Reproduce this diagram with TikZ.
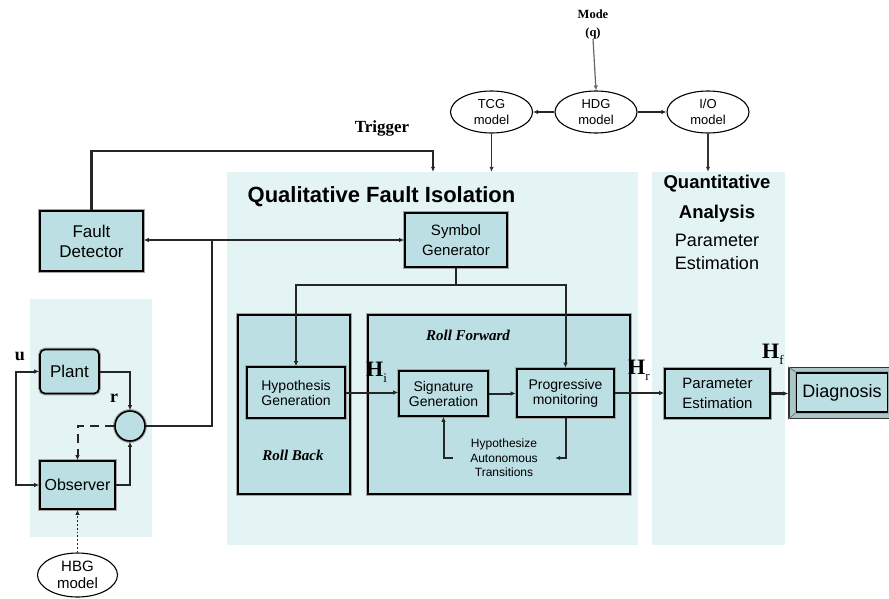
\documentclass[tikz,border=0pt]{standalone}
\usepackage{fontspec}
\setmainfont{Liberation Sans}
\newfontfamily\labelserif{Liberation Serif}
\usetikzlibrary{shapes.geometric,arrows.meta}

\definecolor{panelfill}{RGB}{228,243,244}
\definecolor{boxfill}{RGB}{187,223,227}

\tikzset{
  panel/.style={rectangle, fill=panelfill, draw=none, inner sep=0pt},
  blk/.style={rectangle, draw=black, line width=1.6pt, fill=boxfill,
    preaction={draw=black!35, line width=3.8pt}, align=center, inner sep=0pt,
    font=\fontsize{14}{15}\selectfont},
  group/.style={blk, line width=1.8pt},
  model/.style={ellipse, draw=black, line width=1.1pt, fill=white, inner sep=0pt,
    align=center, minimum width=82pt, minimum height=42pt,
    font=\fontsize{13}{16}\selectfont},
  conn/.style={line width=2pt, draw=black!85},
  tip/.style={-{Latex[length=5pt,width=4.5pt]}},
  twotip/.style={{Latex[length=5pt,width=4.5pt]}-{Latex[length=5pt,width=4.5pt]}},
  sym/.style={font=\labelserif\bfseries\fontsize{17}{17}\selectfont, inner sep=0pt},
  hsym/.style={font=\labelserif\bfseries\fontsize{22}{22}\selectfont, inner sep=0pt, anchor=west},
  rolllab/.style={font=\labelserif\bfseries\itshape\fontsize{15}{15}\selectfont, inner sep=0pt},
}
\newcommand{\hsub}[1]{\raisebox{-6pt}{\fontsize{13}{13}\selectfont\mdseries #1}}

\begin{document}
\begin{tikzpicture}[x=1pt,y=-1pt]
\useasboundingbox (0,0) rectangle (889,598);
\fill[white] (0,0) rectangle (889,598);

% shaded areas
\node[panel, minimum width=122pt, minimum height=238pt] (lp) at (91,418) {};
\node[panel, minimum width=411pt, minimum height=373pt] (qfi) at (432.5,358.5) {};
\node[panel, minimum width=133pt, minimum height=373pt] (qa) at (718.5,358.5) {};

% area titles
\node[font=\bfseries\fontsize{22}{22}\selectfont, inner sep=0pt] (qfititle) at (381.5,197) {Qualitative Fault Isolation};
\node[font=\bfseries\fontsize{18.5}{18.5}\selectfont, inner sep=0pt] (qat1) at (717,184) {Quantitative};
\node[font=\bfseries\fontsize{18.5}{18.5}\selectfont, inner sep=0pt] (qat2) at (717,214) {Analysis};
\node[font=\fontsize{18}{23}\selectfont, align=center, inner sep=0pt] (qat3) at (717,252) {Parameter\\Estimation};

% model ellipses
\node[model] (tcg) at (491.5,112) {TCG\\model};
\node[model] (hdg) at (596,112) {HDG\\model};
\node[model] (io) at (708,112) {I/O\\model};
\node[model, minimum width=80pt, minimum height=44pt, font=\fontsize{15}{17}\selectfont] (hbg) at (77.5,575) {HBG\\model};
\node[font=\labelserif\bfseries\fontsize{12.5}{18}\selectfont, align=center, inner sep=0pt] (mode) at (593,24) {Mode\\(q)};

% detection part
\node[blk, minimum width=103pt, minimum height=60pt, font=\fontsize{17}{20}\selectfont] (fd) at (91.5,241) {Fault\\Detector};
\node[blk, rounded corners=5pt, minimum width=59pt, minimum height=44pt, font=\fontsize{17}{17}\selectfont] (plant) at (69.5,371.5) {Plant};
\node[blk, minimum width=75pt, minimum height=48pt, font=\fontsize{16}{16}\selectfont] (obs) at (77.5,485) {Observer};
\node[circle, draw=black, line width=1.6pt, fill=boxfill, preaction={draw=black!35, line width=3.8pt}, minimum size=30pt, inner sep=0pt] (cmp) at (130,426) {};

% isolation part
\node[blk, minimum width=102pt, minimum height=54pt, font=\fontsize{15}{20}\selectfont] (sg) at (456,240) {Symbol\\Generator};
\node[group, minimum width=112pt, minimum height=179pt] (rb) at (294,404.5) {};
\node[group, minimum width=262pt, minimum height=179pt] (rf) at (499,404.5) {};
\node[rolllab] (rflab) at (468,335) {Roll Forward};
\node[rolllab] (rblab) at (293,455) {Roll Back};
\node[blk, minimum width=98pt, minimum height=51pt] (hg) at (296,392.5) {Hypothesis\\Generation};
\node[blk, minimum width=89pt, minimum height=45pt] (sgn) at (443.5,393.5) {Signature\\Generation};
\node[blk, line width=2.6pt, minimum width=97pt, minimum height=48pt] (pm) at (565.5,393) {Progressive\\monitoring};
\node[align=center, inner sep=0pt, minimum width=102pt, font=\fontsize{12}{14.5}\selectfont] (hat) at (504,458) {Hypothesize\\Autonomous\\Transitions};

% quantitative part
\node[blk, minimum width=105pt, minimum height=49pt, font=\fontsize{15}{20}\selectfont] (pe) at (717.5,393.5) {Parameter\\Estimation};
\node[rectangle, draw=black!80, line width=1.4pt, fill=boxfill!75!gray, minimum width=104pt, minimum height=51pt, inner sep=0pt] (diagout) at (841,393) {};
\draw[black!55, line width=0.8pt] (diagout.north west) -- ++(7,5) (diagout.south west) -- ++(7,-6);
\node[blk, preaction={}, line width=1.3pt, minimum width=91pt, minimum height=39pt, font=\fontsize{18}{18}\selectfont] (diag) at (842,392.5) {Diagnosis};

% labels
\node[sym] (trig) at (382,128) {Trigger};
\node[sym, font=\labelserif\bfseries\fontsize{18}{18}\selectfont] (ulab) at (20,356) {u};
\node[sym, font=\labelserif\bfseries\fontsize{18}{18}\selectfont] (rlab) at (114,398) {r};
\node[hsym] (hi) at (366,372) {H\hsub{i}};
\node[hsym] (hr) at (628,370) {H\hsub{r}};
\node[hsym] (hf) at (762,354) {H\hsub{f}};

% model links
\draw[line width=1.2pt, black!60, tip] (mode.south) -- (hdg.north);
\draw[conn, line width=2.4pt, tip] (hdg.west) -- (tcg.east);
\draw[conn, line width=2.4pt, tip] (hdg.east) -- (io.west);
\draw[line width=1.2pt, black!80, tip] (tcg.south) -- (tcg.south |- qfi.north);
\draw[line width=1.2pt, black!80, tip] (io.south) -- (io.south |- qa.north);

% trigger path
\coordinate (trigturn) at (433,151);
\draw[conn, line width=2.4pt, tip] (fd.north) |- (trigturn) -- (trigturn |- qfi.north);

% residual path
\coordinate (jn) at (212,240);
\draw[conn, twotip] (fd.east |- sg.west) -- (sg.west);
\draw[conn] (cmp.east) -| (jn);

% plant and observer loop
\coordinate (ux) at (16,430);
\draw[conn, twotip] (plant.west) -| (ux) |- (obs.west);
\draw[conn, tip] (plant.east) -| (cmp.north);
\draw[conn, tip] (obs.east) -| (cmp.south);
\draw[conn, dashed, dash pattern=on 9pt off 6pt, tip] (cmp.west) -| (obs.north);
\draw[conn, line width=1.8pt, dotted, tip] (hbg.north) -- (obs.south);

% isolation flow
\coordinate (split) at (456,285);
\draw[conn] (sg.south) -- (split);
\draw[conn, tip] (split) -| (hg.north);
\draw[conn, tip] (split) -| (pm.north);
\draw[conn, tip] (hg.east) -- (hg.east -| sgn.west);
\draw[conn, tip] (sgn.east) -- (sgn.east -| pm.west);
\draw[conn, tip] (pm.south) |- (hat.east);
\draw[conn, tip] (hat.west) -| (sgn.south);
\draw[conn, tip] (pm.east) -- (pm.east -| pe.west);
\draw[conn, line width=2.4pt, tip] (pe.east) -- (pe.east -| diagout.west);
\end{tikzpicture}
\end{document}
